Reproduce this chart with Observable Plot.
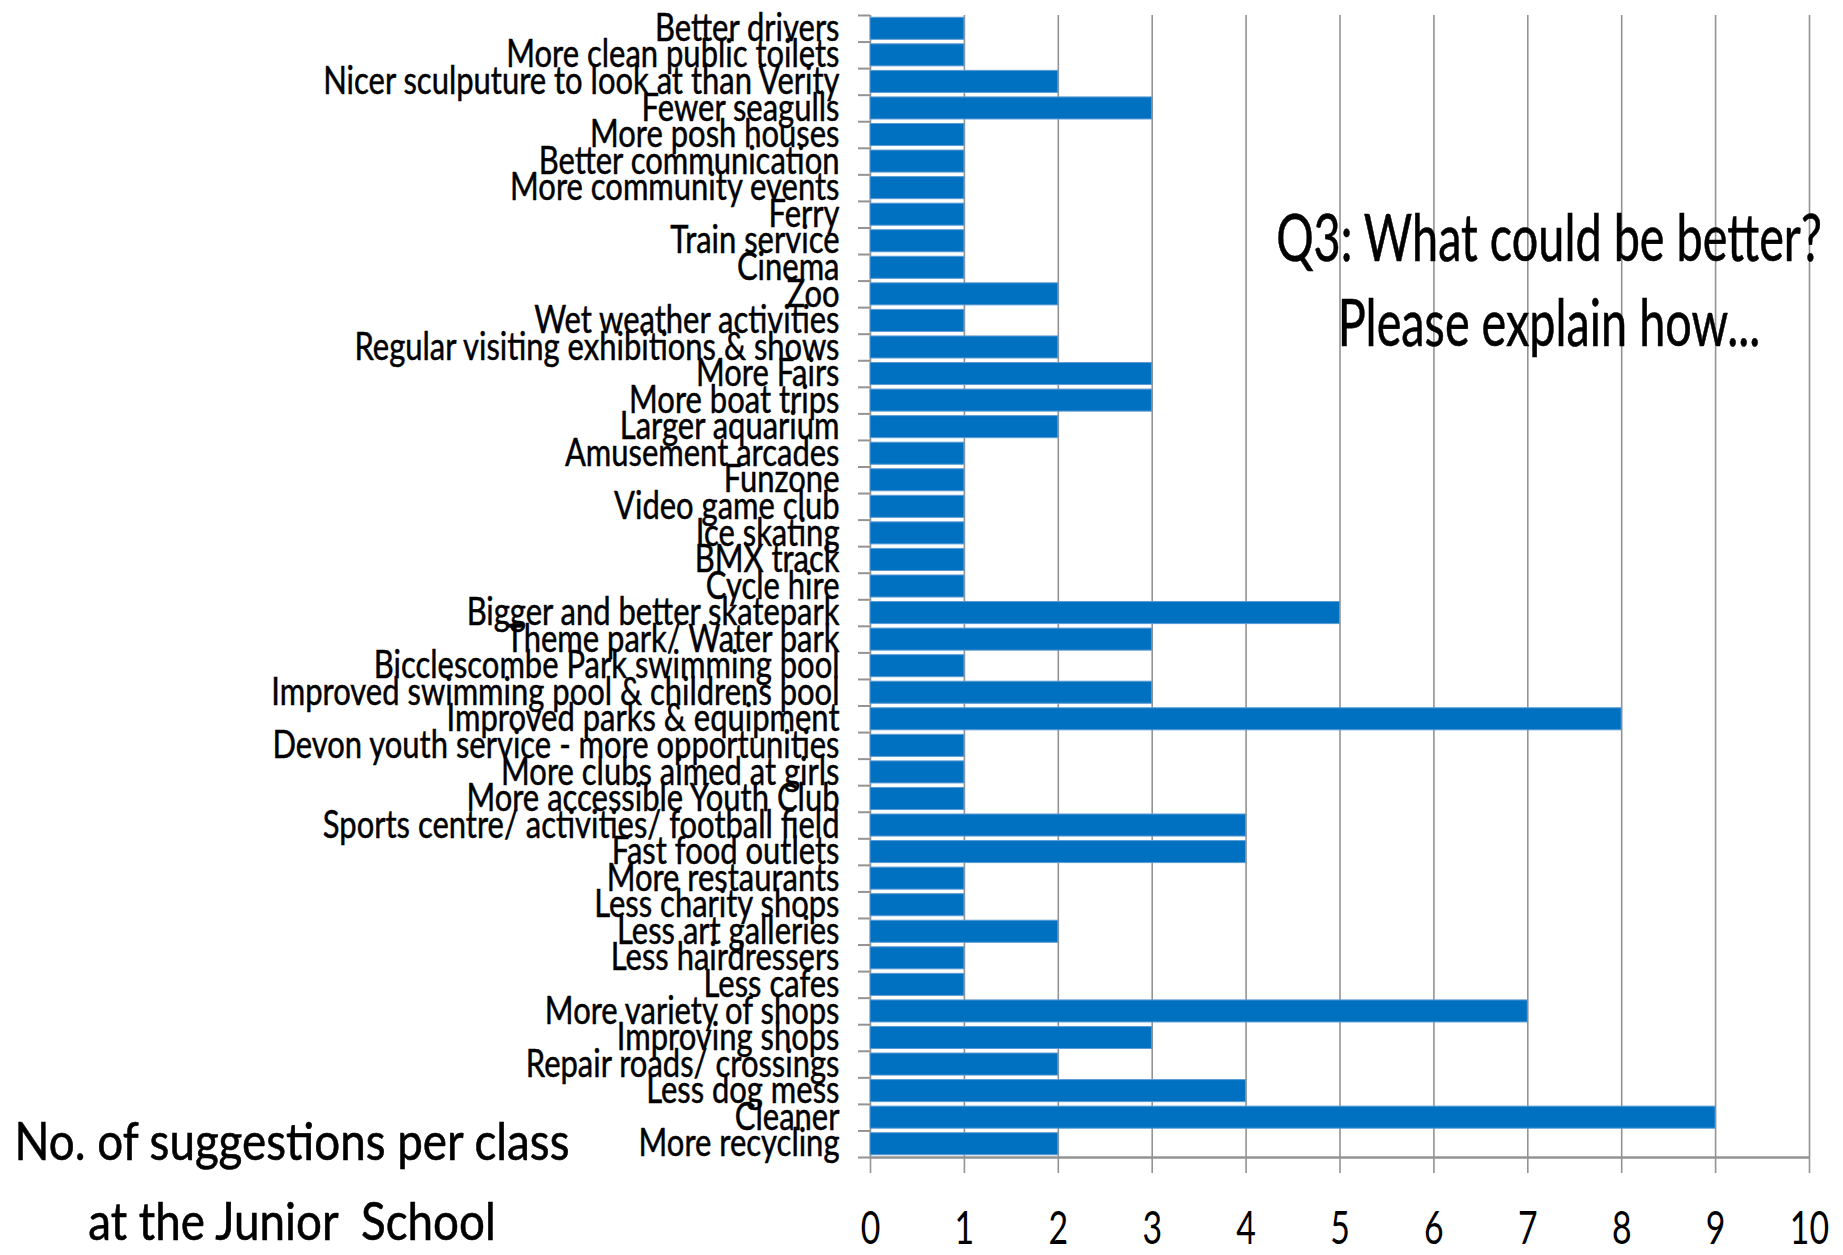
<!DOCTYPE html>
<html>
<head>
<meta charset="utf-8">
<script src="https://cdn.jsdelivr.net/npm/d3@7"></script>
<script src="https://cdn.jsdelivr.net/npm/@observablehq/plot@0.6"></script>
<style>
  html, body { margin: 0; padding: 0; background: #fff; overflow: hidden; }
  #wrap { position: relative; width: 1843px; height: 1255px; }
  #wrap svg { position: absolute; left: 0; top: 0; }
  .note { position: absolute; white-space: nowrap; font-family: Lato, sans-serif; line-height: 1; color: #000; width: max-content; transform-origin: center center; -webkit-text-stroke: 0.6px #000; }
  .t1 { font-size: 65px; transform: translateX(-50%) scaleX(0.72); left: 1549px; }
  .t2 { font-size: 52px; transform: translateX(-50%) scaleX(0.88); left: 292px; }
</style>
</head>
<body>
<div id="wrap">
  <div class="note t1" style="top:204px">Q3: What could be better?</div>
  <div class="note t1" style="top:289px">Please explain how...</div>
  <div class="note t2" style="top:1114px">No. of suggestions per class</div>
  <div class="note t2" style="top:1194px">at the Junior&nbsp; School</div>
</div>
<script>
const labels = [
  "Better drivers",
  "More clean public toilets",
  "Nicer sculputure to look at than Verity",
  "Fewer seagulls",
  "More posh houses",
  "Better communication",
  "More community events",
  "Ferry",
  "Train service",
  "Cinema",
  "Zoo",
  "Wet weather activities",
  "Regular visiting exhibitions & shows",
  "More Fairs",
  "More boat trips",
  "Larger aquarium",
  "Amusement arcades",
  "Funzone",
  "Video game club",
  "Ice skating",
  "BMX track",
  "Cycle hire",
  "Bigger and better skatepark",
  "Theme park/ Water park",
  "Bicclescombe Park swimming pool",
  "Improved swimming pool & childrens pool",
  "Improved parks & equipment",
  "Devon youth service - more opportunities",
  "More clubs aimed at girls",
  "More accessible Youth Club",
  "Sports centre/ activities/ football field",
  "Fast food outlets",
  "More restaurants",
  "Less charity shops",
  "Less art galleries",
  "Less hairdressers",
  "Less cafes",
  "More variety of shops",
  "Improving shops",
  "Repair roads/ crossings",
  "Less dog mess",
  "Cleaner",
  "More recycling"
];
const values = [1,1,2,3,1,1,1,1,1,1,2,1,2,3,3,2,1,1,1,1,1,1,5,3,1,3,8,1,1,1,4,4,1,1,2,1,1,7,3,2,4,9,2];
const xTicks = [0,1,2,3,4,5,6,7,8,9,10];

const data = labels.map((label, i) => ({label, value: values[i]}));

const W = 1843, H = 1255;
const mTop = 15, mBottom = 98, mLeft = 870, mRight = 34;
const step = (H - mTop - mBottom) / labels.length;
const gray = "#939393";

const chart = Plot.plot({
  width: W,
  height: H,
  marginTop: mTop,
  marginBottom: mBottom,
  marginLeft: mLeft,
  marginRight: mRight,
  style: {fontFamily: "Lato, sans-serif", background: "white", color: "black"},
  x: {domain: [0, 10], label: null},
  y: {domain: labels, paddingInner: 0.17, paddingOuter: 0.085, round: false, label: null},
  marks: [
    Plot.gridX(xTicks, {stroke: gray, strokeOpacity: 1, strokeWidth: 1.6}),
    Plot.barX(data, {x: "value", y: "label", fill: "#0070C0", stroke: "#5b9bd5", strokeWidth: 1}),
    Plot.ruleY([labels[labels.length - 1]], {dy: step / 2, stroke: gray, strokeWidth: 2.6}),
    Plot.axisY({fill: "none", stroke: gray, strokeWidth: 2, tickSize: 12, dy: -step / 2, label: null}),
    Plot.axisY([labels[labels.length - 1]], {fill: "none", stroke: gray, strokeWidth: 2, tickSize: 12, dy: step / 2, label: null}),
    Plot.axisY({tickSize: 0, tickPadding: 31, fontSize: 38, fill: "black", stroke: "none", textStroke: "black", textStrokeWidth: 0.5, label: null}),
    Plot.axisX({ticks: xTicks, tickSize: 16, tickPadding: 37, stroke: gray, strokeWidth: 1.6, fill: "black", fontSize: 47, label: null, tickFormat: d => String(d)})
  ]
});

document.getElementById("wrap").prepend(chart);

function squeeze(t, s) {
  const tr = t.getAttribute("transform");
  if (tr) {
    t.setAttribute("transform", tr + ` scale(${s},1)`);
  } else {
    const x = +(t.getAttribute("x") || 0), y = +(t.getAttribute("y") || 0);
    t.removeAttribute("x");
    t.removeAttribute("y");
    t.setAttribute("transform", `translate(${x},${y}) scale(${s},1)`);
  }
}
chart.querySelectorAll('g[aria-label*="y-axis tick label"] text').forEach(t => squeeze(t, 0.815));
chart.querySelectorAll('g[aria-label*="x-axis tick label"] text').forEach(t => squeeze(t, 0.72));
</script>
</body>
</html>
